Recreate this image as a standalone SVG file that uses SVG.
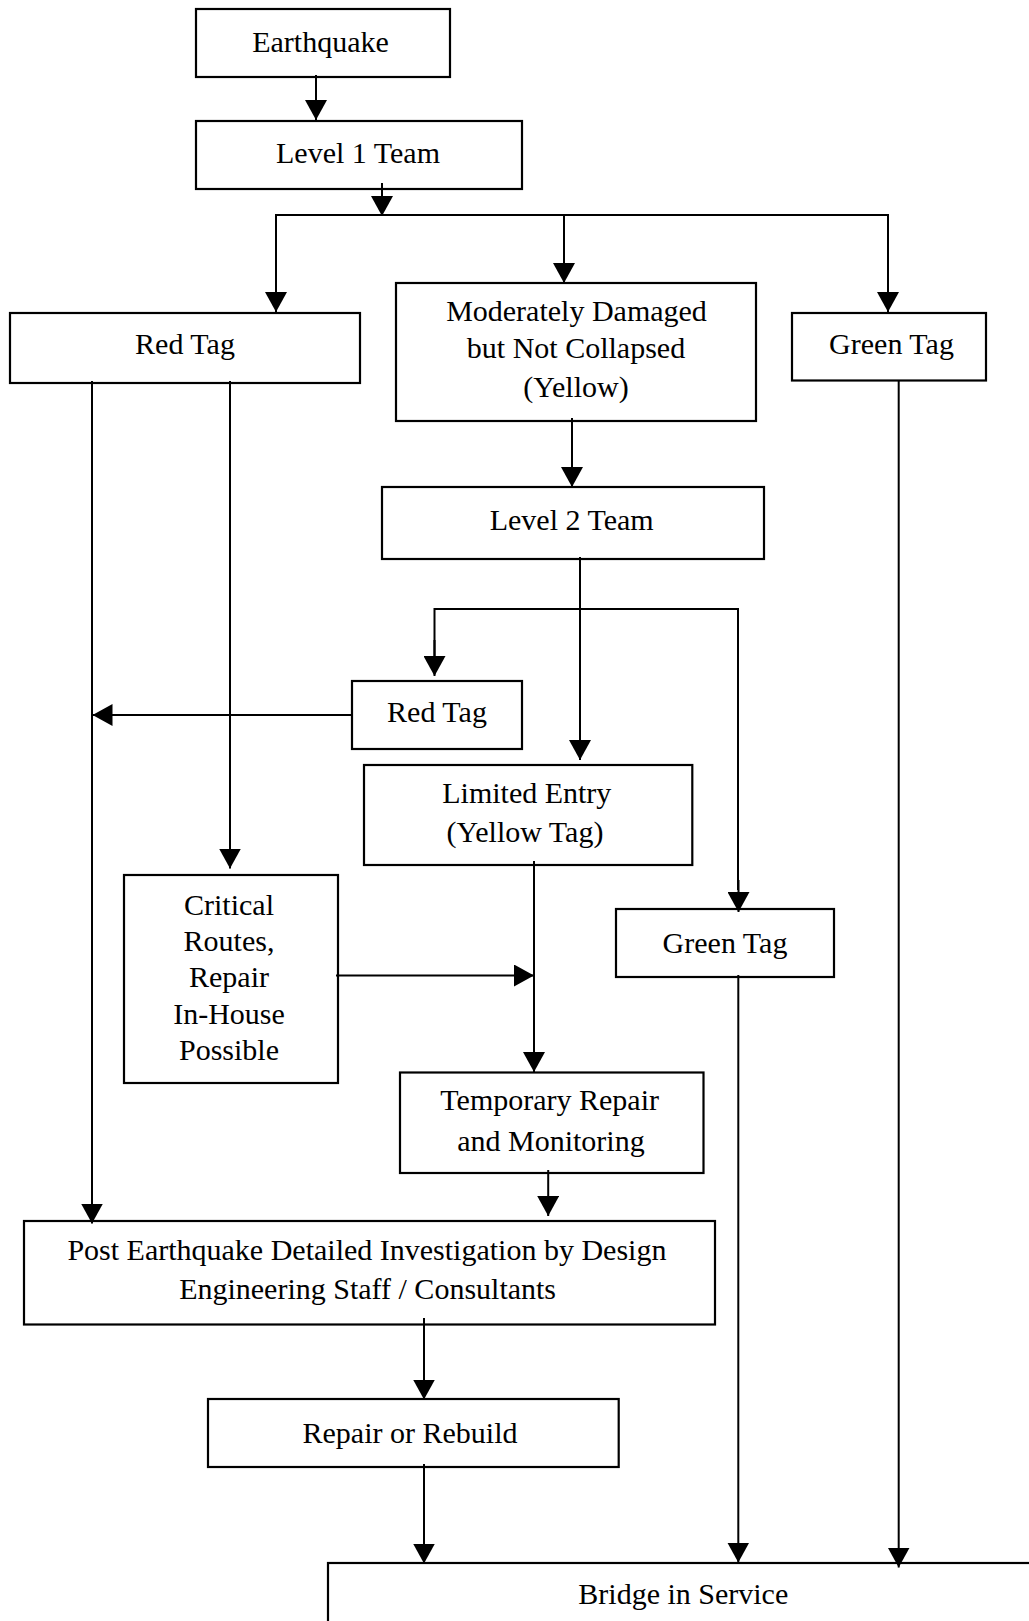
<svg xmlns="http://www.w3.org/2000/svg" width="1029" height="1621" viewBox="0 0 1029 1621">
<style>
.box{fill:#fff;stroke:#000;stroke-width:2.2}
.ln{fill:none;stroke:#000;stroke-width:2}
.arr{marker-end:url(#ah)}
text{font-family:"Liberation Serif","Times New Roman",serif;font-size:30px;fill:#000;text-anchor:middle}
</style>
<defs>
<marker id="ah" viewBox="0 0 20 22" refX="20" refY="11" markerWidth="20" markerHeight="22" markerUnits="userSpaceOnUse" orient="auto">
<path d="M0,0 L20,11 L0,22 z" fill="#000"/>
</marker>
</defs>
<rect width="1029" height="1621" fill="#fff"/>
<g id="nodes">
<g id="earthquake"><rect class="box" x="196" y="9" width="254" height="68"/><text x="320.5" y="52">Earthquake</text></g>
<g id="level1"><rect class="box" x="196" y="121" width="326" height="68"/><text x="358" y="163">Level 1 Team</text></g>
<g id="redtag1"><rect class="box" x="10" y="313" width="350" height="70"/><text x="185" y="354">Red Tag</text></g>
<g id="moderate"><rect class="box" x="396" y="283" width="360" height="138"/><text x="576.5" y="321">Moderately Damaged</text><text x="576" y="358">but Not Collapsed</text><text x="576" y="397">(Yellow)</text></g>
<g id="greentag1"><rect class="box" x="792" y="313" width="194" height="67.5"/><text x="891.5" y="354">Green Tag</text></g>
<g id="level2"><rect class="box" x="382" y="487" width="382" height="72"/><text x="571.7" y="530">Level 2 Team</text></g>
<g id="redtag2"><rect class="box" x="352" y="681" width="170" height="68"/><text x="437" y="722">Red Tag</text></g>
<g id="limited"><rect class="box" x="364" y="765" width="328.3" height="100"/><text x="526.8" y="802.5">Limited Entry</text><text x="525" y="841.5">(Yellow Tag)</text></g>
<g id="critical"><rect class="box" x="124" y="875" width="214" height="208"/><text x="229" y="915">Critical</text><text x="229" y="951">Routes,</text><text x="229" y="987">Repair</text><text x="229" y="1024">In-House</text><text x="229" y="1060">Possible</text></g>
<g id="greentag2"><rect class="box" x="616" y="909" width="218" height="68"/><text x="725" y="952.5">Green Tag</text></g>
<g id="temporary"><rect class="box" x="400" y="1072.5" width="303.5" height="100.5"/><text x="549.7" y="1110">Temporary Repair</text><text x="550.9" y="1151">and Monitoring</text></g>
<g id="post"><rect class="box" x="24" y="1221" width="691" height="103.5"/><text x="366.9" y="1260">Post Earthquake Detailed Investigation by Design</text><text x="367.6" y="1299">Engineering Staff / Consultants</text></g>
<g id="repair"><rect class="box" x="208" y="1399" width="410.7" height="68"/><text x="410" y="1443">Repair or Rebuild</text></g>
<g id="bridge"><rect class="box" x="328" y="1563" width="760" height="120"/><text x="683.3" y="1604">Bridge in Service</text></g>
</g>
<g id="connectors">
<line class="ln arr" x1="316" y1="75" x2="316" y2="120"/>
<line class="ln" x1="382" y1="183" x2="382" y2="200"/>
<line class="ln arr" x1="382" y1="195" x2="382" y2="216"/>
<polyline class="ln" points="276,300 276,215 888,215 888,300"/>
<line class="ln arr" x1="276" y1="290" x2="276" y2="312"/>
<line class="ln arr" x1="564" y1="215" x2="564" y2="283"/>
<line class="ln arr" x1="888" y1="290" x2="888" y2="312"/>
<line class="ln arr" x1="572" y1="418" x2="572" y2="487"/>
<line class="ln arr" x1="92" y1="381" x2="92" y2="1223.5"/>
<line class="ln arr" x1="230" y1="381" x2="230" y2="868.5"/>
<line class="ln arr" x1="898.7" y1="380" x2="898.7" y2="1567.5"/>
<line class="ln arr" x1="580" y1="557" x2="580" y2="760"/>
<polyline class="ln" points="434.5,660 434.5,609 738,609 738,890"/>
<line class="ln arr" x1="434.5" y1="640" x2="434.5" y2="676"/>
<line class="ln arr" x1="738.5" y1="880" x2="738.5" y2="912"/>
<line class="ln arr" x1="352" y1="715" x2="92.5" y2="715"/>
<line class="ln arr" x1="534" y1="861" x2="534" y2="1072"/>
<line class="ln arr" x1="336" y1="975.5" x2="534" y2="975.5"/>
<line class="ln arr" x1="738.3" y1="975" x2="738.3" y2="1562.5"/>
<line class="ln arr" x1="548.2" y1="1170" x2="548.2" y2="1216"/>
<line class="ln arr" x1="424" y1="1318" x2="424" y2="1399.5"/>
<line class="ln arr" x1="424" y1="1464" x2="424" y2="1563.5"/>
</g>
</svg>
